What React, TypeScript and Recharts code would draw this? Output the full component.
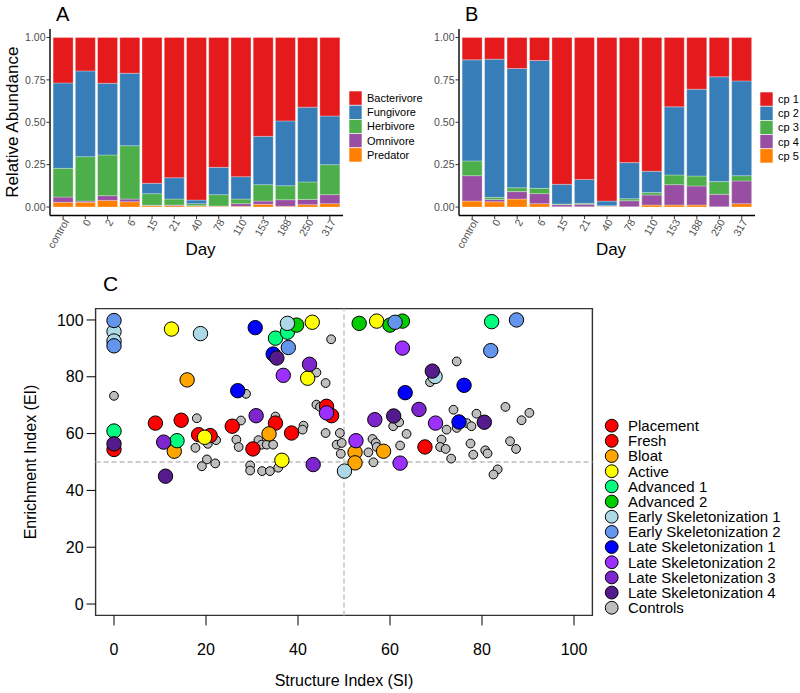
import React from 'react';
import { BarChart, Bar, XAxis, YAxis, ScatterChart, Scatter, ReferenceLine, ReferenceArea } from 'recharts';

// ---------- Panel A / B data ----------
const days = ['control', '0', '2', '6', '15', '21', '40', '78', '110', '153', '188', '250', '317'];

const guildNames = ['Bacterivore', 'Fungivore', 'Herbivore', 'Omnivore', 'Predator'];
const guildColors = ['#E41A1C', '#377EB8', '#4DAF4A', '#984EA3', '#FF7F00'];
const bacterivore = [0.268, 0.197, 0.270, 0.211, 0.860, 0.827, 0.959, 0.766, 0.821, 0.583, 0.492, 0.411, 0.463];
const fungivore = [0.504, 0.506, 0.423, 0.427, 0.061, 0.126, 0.021, 0.161, 0.132, 0.285, 0.382, 0.441, 0.287];
const herbivore = [0.169, 0.262, 0.240, 0.315, 0.069, 0.035, 0.012, 0.067, 0.027, 0.097, 0.083, 0.103, 0.177];
const omnivore = [0.031, 0.007, 0.028, 0.016, 0.002, 0.004, 0.002, 0.002, 0.016, 0.019, 0.039, 0.031, 0.053];
const predator = [0.028, 0.028, 0.039, 0.031, 0.008, 0.008, 0.006, 0.004, 0.004, 0.016, 0.004, 0.014, 0.020];

const cpNames = ['cp 1', 'cp 2', 'cp 3', 'cp 4', 'cp 5'];
const cpColors = ['#E41A1C', '#377EB8', '#4DAF4A', '#984EA3', '#FF7F00'];
const cp1 = [0.132, 0.128, 0.183, 0.136, 0.866, 0.837, 0.965, 0.738, 0.789, 0.409, 0.305, 0.232, 0.256];
const cp2 = [0.596, 0.815, 0.703, 0.754, 0.116, 0.141, 0.027, 0.213, 0.126, 0.402, 0.512, 0.618, 0.559];
const cp3 = [0.087, 0.012, 0.023, 0.031, 0.004, 0.006, 0.002, 0.012, 0.014, 0.057, 0.059, 0.075, 0.031];
const cp4 = [0.150, 0.014, 0.044, 0.059, 0.012, 0.014, 0.002, 0.035, 0.059, 0.120, 0.112, 0.073, 0.134];
const cp5 = [0.035, 0.031, 0.047, 0.020, 0.002, 0.002, 0.004, 0.002, 0.012, 0.012, 0.012, 0.002, 0.020];

const abundanceTicks = [0, 0.25, 0.5, 0.75, 1];

// ---------- Panel C data ----------
const indexTicks = [0, 20, 40, 60, 80, 100];
const stageNames = ['Placement', 'Fresh', 'Bloat', 'Active', 'Advanced 1', 'Advanced 2', 'Early Skeletonization 1',
  'Early Skeletonization 2', 'Late Skeletonization 1', 'Late Skeletonization 2', 'Late Skeletonization 3',
  'Late Skeletonization 4', 'Controls'];
const stageColors = ['#FF0000', '#FF0000', '#FFA500', '#FFFF00', '#00FF7F', '#00CD00', '#ADD8E6', '#6495ED',
  '#0000FF', '#9B30FF', '#7D26CD', '#551A8B', '#BEBEBE'];

const placementPts = [[0, 54.4], [9.0, 63.7], [14.6, 64.7], [18.4, 59.6], [20.9, 59.3], [25.7, 62.6]];
const freshPts = [[30.2, 54.6], [35.1, 63.7], [38.6, 60.2], [46.2, 69.6], [47.3, 66.3], [67.6, 55.3]];
const bloatPts = [[15.9, 78.9], [13.1, 53.8], [33.7, 59.9], [52.4, 53.4], [52.4, 49.7], [58.6, 53.8]];
const activePts = [[12.5, 96.8], [19.7, 58.7], [36.5, 50.6], [42.1, 79.5], [43.1, 99.2], [57.1, 99.6]];
const advanced1Pts = [[0, 60.9], [13.7, 57.5], [35.1, 93.6], [37.7, 95.7], [82.1, 99.4]];
const advanced2Pts = [[39.7, 98.2], [53.3, 98.8], [60.0, 98.2], [62.7, 99.6]];
const earlySkel1Pts = [[0, 95.9], [0, 92.6], [18.8, 95.2], [37.7, 98.8], [50.1, 46.8], [69.8, 80.1]];
const earlySkel2Pts = [[0, 99.8], [0, 90.9], [37.9, 90.3], [61.1, 99.2], [81.9, 89.2], [87.5, 100]];
const lateSkel1Pts = [[26.9, 75.1], [30.7, 97.3], [34.6, 88.0], [63.3, 74.4], [75.0, 64.1], [76.1, 77.0]];
const lateSkel2Pts = [[36.8, 80.5], [46.2, 67.3], [52.6, 57.5], [62.2, 49.6], [62.7, 90.1], [69.9, 63.7]];
const lateSkel3Pts = [[10.8, 57.0], [30.9, 66.3], [42.5, 84.4], [43.3, 49.1], [56.7, 64.9], [66.3, 68.5]];
const lateSkel4Pts = [[0, 56.4], [11.2, 45.0], [35.4, 86.6], [60.8, 66.2], [69.2, 82.0], [80.5, 64.0]];
const controlPts = [
  [0, 73.3], [18.0, 65.4], [17.7, 55.0], [20.4, 56.4], [22.2, 57.7], [20.2, 50.9], [19.1, 48.5], [22.0, 49.5],
  [27.6, 64.6], [26.6, 57.9], [27.1, 55.3], [28.7, 74.0], [31.4, 57.7], [29.6, 48.8], [29.6, 47.0], [32.2, 46.8],
  [33.9, 46.8], [35.7, 48.0], [35.1, 66.0], [32.1, 56.1], [33.2, 56.1], [34.6, 56.1], [41.2, 62.8], [41.0, 61.4],
  [44.0, 70.2], [44.8, 69.4], [46.0, 60.2], [49.1, 60.2], [48.4, 56.1], [49.5, 56.7], [49.3, 52.9], [44.0, 81.5],
  [46.0, 77.8], [47.2, 93.2], [55.3, 53.4], [56.2, 58.1], [56.9, 56.7], [57.1, 55.3], [56.4, 49.9], [60.7, 62.6],
  [62.0, 64.0], [63.6, 59.9], [62.2, 55.8], [68.7, 78.1], [74.5, 85.4], [73.8, 68.4], [78.8, 67.0], [85.1, 69.4],
  [90.3, 67.3], [88.6, 64.7], [72.3, 61.4], [74.5, 62.0], [76.7, 63.7], [77.7, 62.6], [71.2, 57.9], [70.9, 55.3],
  [72.1, 54.6], [73.3, 51.2], [77.5, 56.5], [78.1, 52.6], [80.7, 54.1], [81.2, 53.0], [86.1, 57.3], [87.4, 54.6],
  [83.4, 47.4], [82.5, 45.6]];

const stagePoints = [placementPts, freshPts, bloatPts, activePts, advanced1Pts, advanced2Pts, earlySkel1Pts,
  earlySkel2Pts, lateSkel1Pts, lateSkel2Pts, lateSkel3Pts, lateSkel4Pts, controlPts];

// ---------- helpers ----------
const FONT = '"Liberation Sans", Arial, Helvetica, sans-serif';

const rowsA = days.map((d, i) => ({
  day: d, Predator: predator[i], Omnivore: omnivore[i], Herbivore: herbivore[i],
  Fungivore: fungivore[i], Bacterivore: bacterivore[i],
}));
const rowsB = days.map((d, i) => ({
  day: d, 'cp 5': cp5[i], 'cp 4': cp4[i], 'cp 3': cp3[i], 'cp 2': cp2[i], 'cp 1': cp1[i],
}));

const DayTick = (props: any) => {
  const { x, y, payload } = props;
  return (
    <text transform={`translate(${x + 3},${y + 1}) rotate(-60)`} textAnchor="end" dy="0.35em"
      fontSize={10.5} fill="#4D4D4D" fontFamily={FONT}>
      {payload.value}
    </text>
  );
};

const KeyLegend = ({ names, colors, left, top }: any) => (
  <svg style={{ position: 'absolute', left, top, overflow: 'visible' }} width={90} height={75}>
    {names.map((n: string, i: number) => (
      <g key={n}>
        <rect x={0} y={i * 14.2} width={13} height={14.2} fill={colors[i]} stroke="#fff" strokeWidth={0.6} />
        <text x={18} y={i * 14.2 + 11} fontSize={11} fill="#000" fontFamily={FONT}>{n}</text>
      </g>
    ))}
  </svg>
);

const StackPanel = ({ data, keys, colorsBottomUp, yTitle }: any) => (
  <BarChart width={yTitle ? 345 : 348} height={260} data={data} margin={{ top: 29, right: 2, bottom: 0, left: 0 }}
    barCategoryGap="5%">
    <XAxis dataKey="day" type="category" height={44.5} padding={{ left: 2, right: 2 }} interval={0}
      tick={<DayTick />} tickSize={3.5} tickMargin={0} tickLine={{ stroke: '#333' }}
      axisLine={{ stroke: '#000', strokeWidth: 1.4 }}
      label={{ value: 'Day', position: 'insideBottom', offset: 5, dx: 4, style: { fontSize: 17, fill: '#000', fontFamily: FONT } }} />
    <YAxis type="number" domain={[-0.05, 1.05]} ticks={abundanceTicks} allowDataOverflow width={50}
      tickFormatter={(v: number) => v.toFixed(2)} tickSize={3.5} tickMargin={1}
      tick={{ fontSize: 10.5, fill: '#4D4D4D', fontFamily: FONT }} tickLine={{ stroke: '#333' }}
      axisLine={{ stroke: '#000', strokeWidth: 1.4 }}
      label={yTitle ? { value: yTitle, angle: -90, position: 'insideLeft', offset: 12,
        style: { fontSize: 17, fill: '#000', fontFamily: FONT, textAnchor: 'middle' } } : undefined} />
    {keys.map((k: string, i: number) => (
      <Bar key={k} dataKey={k} stackId="s" fill={colorsBottomUp[i]} stroke="#ffffff" strokeWidth={0.3}
        isAnimationActive={false} />
    ))}
  </BarChart>
);

const makeDot = (color: string, r: number) => (props: any) => {
  const { cx, cy } = props;
  if (cx == null || cy == null) return null;
  return <circle cx={cx} cy={cy} r={r} fill={color} stroke="#000" strokeWidth={1} />;
};

export default function App() {
  const ctrlIdx = stageNames.length - 1;
  const drawOrder = [ctrlIdx, ...stageNames.slice(0, ctrlIdx).map((_, i) => i)];
  return (
    <div style={{ position: 'absolute', left: 0, top: 0, width: 800, height: 693, background: '#fff', fontFamily: FONT, overflow: 'hidden' }}>
      {/* Panel A */}
      <div style={{ position: 'absolute', left: 0, top: 0 }}>
        <StackPanel data={rowsA} keys={['Predator', 'Omnivore', 'Herbivore', 'Fungivore', 'Bacterivore']}
          colorsBottomUp={[guildColors[4], guildColors[3], guildColors[2], guildColors[1], guildColors[0]]}
          yTitle="Relative Abundance" />
      </div>
      <KeyLegend names={guildNames} colors={guildColors} left={349} top={91} />
      <div style={{ position: 'absolute', left: 56, top: 0, fontSize: 20, lineHeight: '28px' }}>A</div>

      {/* Panel B */}
      <div style={{ position: 'absolute', left: 409, top: 0 }}>
        <StackPanel data={rowsB} keys={['cp 5', 'cp 4', 'cp 3', 'cp 2', 'cp 1']}
          colorsBottomUp={[cpColors[4], cpColors[3], cpColors[2], cpColors[1], cpColors[0]]} />
      </div>
      <KeyLegend names={cpNames} colors={cpColors} left={760} top={92} />
      <div style={{ position: 'absolute', left: 465, top: 0, fontSize: 20, lineHeight: '28px' }}>B</div>

      {/* Panel C */}
      <div style={{ position: 'absolute', left: 103, top: 270, fontSize: 21, lineHeight: '28px' }}>C</div>
      <div style={{ position: 'absolute', left: 0, top: 290 }}>
        <ScatterChart width={800} height={403} margin={{ top: 18.6, right: 207.6, bottom: 0, left: 0 }}>
          <XAxis type="number" dataKey="x" domain={[-4, 104]} ticks={indexTicks} allowDataOverflow height={77.6}
            axisLine={false} tickSize={10} tickMargin={18} tickLine={{ stroke: '#000' }}
            tick={{ fontSize: 16, fill: '#000', fontFamily: FONT }}
            label={{ value: 'Structure Index (SI)', position: 'insideBottom', offset: 7,
              style: { fontSize: 16, fill: '#000', fontFamily: FONT } }} />
          <YAxis type="number" dataKey="y" domain={[-4, 104]} ticks={indexTicks} allowDataOverflow width={95.6}
            axisLine={false} tickSize={9} tickMargin={3} tickLine={{ stroke: '#000' }}
            tick={{ fontSize: 16, fill: '#000', fontFamily: FONT }}
            label={{ value: 'Enrichment Index (EI)', angle: -90, position: 'insideLeft', offset: 30,
              style: { fontSize: 16, fill: '#000', fontFamily: FONT, textAnchor: 'middle' } }} />
          <ReferenceArea x1={-4} x2={104} y1={-4} y2={104} fill="none" stroke="#333" strokeWidth={1.4} ifOverflow="visible" />
          <ReferenceLine x={50} stroke="#BDBDBD" strokeWidth={1.3} strokeDasharray="5 3" />
          <ReferenceLine y={50} stroke="#BDBDBD" strokeWidth={1.3} strokeDasharray="5 3" />
          {drawOrder.map((si) => (
            <Scatter key={stageNames[si]} name={stageNames[si]}
              data={stagePoints[si].map(([x, y]) => ({ x, y }))}
              shape={makeDot(stageColors[si], si === ctrlIdx ? 4.4 : 7.2)}
              isAnimationActive={false} />
          ))}
        </ScatterChart>
      </div>

      {/* Panel C legend */}
      <svg style={{ position: 'absolute', left: 600, top: 416 }} width={200} height={200}>
        {stageNames.map((n, i) => (
          <g key={n}>
            <circle cx={11.7} cy={9.7 + i * 15.17} r={6.4} fill={stageColors[i]} stroke="#000" strokeWidth={1} />
            <text x={28} y={9.7 + i * 15.17 + 5.3} fontSize={15} fill="#000" fontFamily={FONT}>{n}</text>
          </g>
        ))}
      </svg>
    </div>
  );
}
